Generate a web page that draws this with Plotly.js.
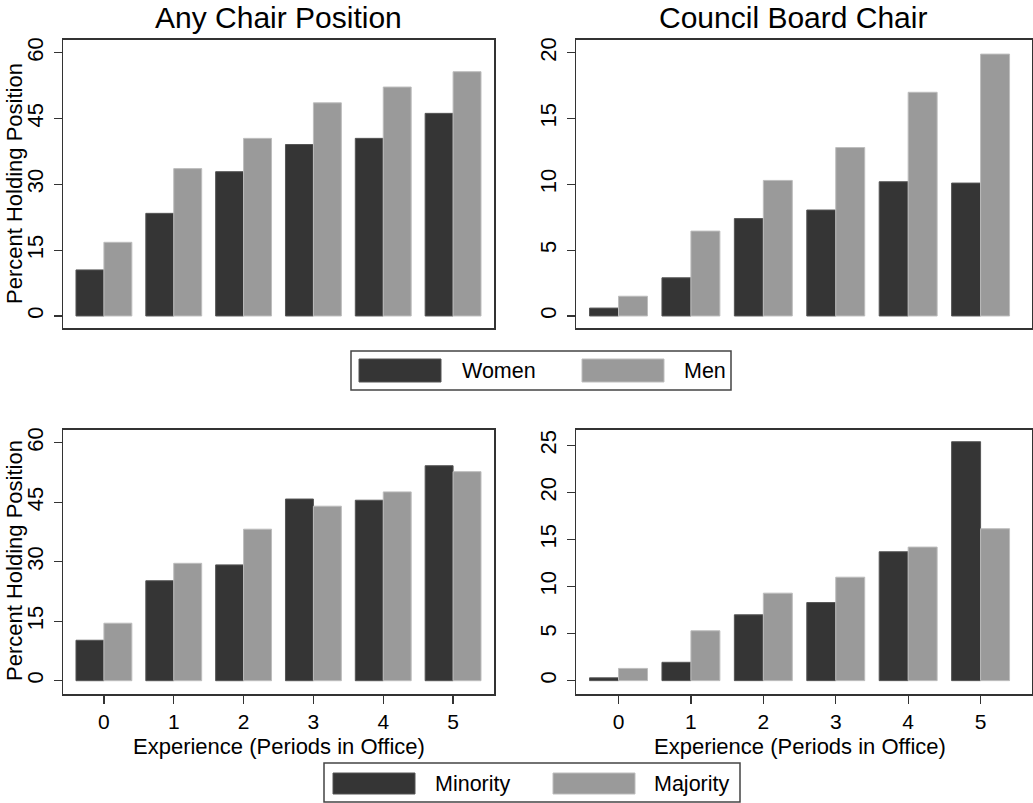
<!DOCTYPE html>
<html>
<head>
<meta charset="utf-8">
<script src="https://cdn.plot.ly/plotly-3.0.1.min.js"></script>
<style>html,body{margin:0;padding:0;background:#fff;}#chart{width:1033px;height:803px;}</style>
</head>
<body>
<div id="chart"></div>
<script>
// ---- data ----
const experience = [0, 1, 2, 3, 4, 5];
const xTickLabels = ['0', '1', '2', '3', '4', '5'];
const panelTitles = ['Any Chair Position', 'Council Board Chair'];
const yTitle = 'Percent Holding Position';
const xTitle = 'Experience (Periods in Office)';
const seriesTop = ['Women', 'Men'];
const seriesBottom = ['Minority', 'Majority'];

const anyChairWomen = [10.5, 23.4, 32.9, 39.1, 40.5, 46.2];
const anyChairMen   = [16.8, 33.6, 40.5, 48.6, 52.2, 55.7];
const boardWomen    = [0.6, 2.9, 7.4, 8.05, 10.2, 10.1];
const boardMen      = [1.5, 6.45, 10.3, 12.8, 17.0, 19.9];
const anyChairMinority = [10.2, 25.2, 29.2, 45.8, 45.5, 54.2];
const anyChairMajority = [14.5, 29.6, 38.2, 44.0, 47.6, 52.7];
const boardMinority    = [0.3, 1.95, 7.0, 8.3, 13.7, 25.4];
const boardMajority    = [1.3, 5.3, 9.3, 11.0, 14.2, 16.15];

const yTicksAny = [0, 15, 30, 45, 60];
const yTicksBoardTop = [0, 5, 10, 15, 20];
const yTicksBoardBottom = [0, 5, 10, 15, 20, 25];

// ---- style ----
const W = 1033, H = 803;
const DARK = '#353535', LIGHT = '#9a9a9a';
const FONT = 'Liberation Sans, Arial, sans-serif';
const px = v => v / W;
const py = v => 1 - v / H;

function bar(x, y, color, edge, xa, ya, name) {
  return {type: 'bar', x: x, y: y, name: name, xaxis: xa, yaxis: ya,
    marker: {color: color, line: {color: edge, width: 1}},
    showlegend: false, hoverinfo: 'x+y'};
}

const data = [
  bar(experience, anyChairWomen, DARK, '#555', 'x', 'y', seriesTop[0]),
  bar(experience, anyChairMen, LIGHT, '#bdbdbd', 'x', 'y', seriesTop[1]),
  bar(experience, boardWomen, DARK, '#555', 'x2', 'y2', seriesTop[0]),
  bar(experience, boardMen, LIGHT, '#bdbdbd', 'x2', 'y2', seriesTop[1]),
  bar(experience, anyChairMinority, DARK, '#555', 'x3', 'y3', seriesBottom[0]),
  bar(experience, anyChairMajority, LIGHT, '#bdbdbd', 'x3', 'y3', seriesBottom[1]),
  bar(experience, boardMinority, DARK, '#555', 'x4', 'y4', seriesBottom[0]),
  bar(experience, boardMajority, LIGHT, '#bdbdbd', 'x4', 'y4', seriesBottom[1])
];

const lineCol = '#333';
function xax(dom, range, anchor, showTicks) {
  return {domain: dom, range: range, anchor: anchor, showgrid: false, zeroline: false,
    showline: true, mirror: true, linecolor: lineCol, linewidth: 1.5,
    tickmode: 'array', tickvals: experience, ticktext: xTickLabels,
    showticklabels: showTicks, ticks: showTicks ? 'outside' : '', ticklen: 8,
    tickcolor: lineCol, tickwidth: 1.2, ticklabelstandoff: 0,
    tickfont: {family: FONT, size: 21, color: '#000'}, fixedrange: true};
}
function yax(dom, range, anchor, tv) {
  return {domain: dom, range: range, anchor: anchor, showgrid: false, zeroline: false,
    showline: true, mirror: true, linecolor: lineCol, linewidth: 1.5,
    tickmode: 'array', tickvals: tv, ticks: 'outside', ticklen: 8, tickcolor: lineCol,
    tickwidth: 1.2, tickangle: -90, ticklabelstandoff: 2,
    tickfont: {family: FONT, size: 22, color: '#000'}, fixedrange: true};
}

const leftX = [px(63), px(494)];
const rightX = [px(576), px(1032)];
const topY = [py(328), py(39.5)];
const botY = [py(694), py(429.5)];

const annotations = [];
function txt(x, y, text, size, opts) {
  annotations.push(Object.assign({xref: 'paper', yref: 'paper', x: px(x), y: py(y), text: text,
    showarrow: false, font: {family: FONT, size: size, color: '#000'},
    xanchor: 'center', yanchor: 'middle'}, opts || {}));
}
txt(278.5, 18, panelTitles[0], 30);
txt(793, 18, panelTitles[1], 30);
txt(14, 184, yTitle, 22, {textangle: -90});
txt(14, 561, yTitle, 22, {textangle: -90});
txt(279, 746, xTitle, 22);
txt(800, 746, xTitle, 22);

const shapes = [];
function rect(x0, y0, x1, y1, fill, line, lw) {
  shapes.push({type: 'rect', xref: 'paper', yref: 'paper', x0: px(x0), x1: px(x1), y0: py(y1), y1: py(y0),
    fillcolor: fill, line: {color: line, width: lw}});
}
// legend 1
rect(351, 351, 731, 390, '#fff', '#444', 1.5);
rect(359, 359, 441, 382, DARK, '#555', 1);
rect(582, 359, 664, 382, LIGHT, '#bdbdbd', 1);
txt(460, 370.5, seriesTop[0], 21.5, {xanchor: 'left'});
txt(682, 370.5, seriesTop[1], 21.5, {xanchor: 'left'});
// legend 2
rect(324, 763, 740, 802, '#fff', '#444', 1.5);
rect(333, 773, 415, 794, DARK, '#555', 1);
rect(553, 773, 635, 794, LIGHT, '#bdbdbd', 1);
txt(433, 783.5, seriesBottom[0], 21.5, {xanchor: 'left'});
txt(652, 783.5, seriesBottom[1], 21.5, {xanchor: 'left'});

const layout = {
  width: W, height: H, margin: {l: 0, r: 0, t: 0, b: 0},
  paper_bgcolor: '#fff', plot_bgcolor: '#fff',
  barmode: 'group', bargap: 0.2, bargroupgap: 0,
  showlegend: false,
  xaxis: xax(leftX, [-0.586, 5.586], 'y', false),
  yaxis: yax(topY, [-2.74, 63.04], 'x', yTicksAny),
  xaxis2: xax(rightX, [-0.587, 5.71], 'y2', false),
  yaxis2: yax(topY, [-0.914, 21.01], 'x2', yTicksBoardTop),
  xaxis3: xax(leftX, [-0.586, 5.586], 'y3', true),
  yaxis3: yax(botY, [-3.35, 63.33], 'x3', yTicksAny),
  xaxis4: xax(rightX, [-0.587, 5.71], 'y4', true),
  yaxis4: yax(botY, [-1.42, 26.7], 'x4', yTicksBoardBottom),
  annotations: annotations,
  shapes: shapes
};

Plotly.newPlot('chart', data, layout, {displayModeBar: false, staticPlot: true});
</script>
</body>
</html>
